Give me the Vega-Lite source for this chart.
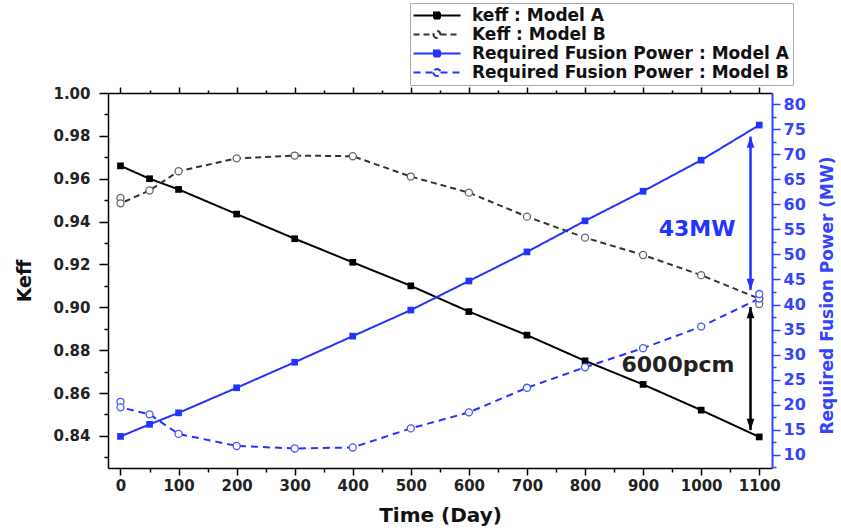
{
  "$schema": "https://vega.github.io/schema/vega-lite/v6.json",
  "width": 664,
  "height": 375,
  "autosize": {"type": "none"},
  "padding": {"left": 108, "top": 93, "right": 69, "bottom": 63},
  "background": "white",
  "config": {
    "font": "DejaVu Sans",
    "view": {"stroke": null},
    "axis": {"labelFont": "DejaVu Sans", "titleFont": "DejaVu Sans", "labelFontWeight": "bold", "titleFontWeight": "bold", "grid": false}
  },
  "datasets": {
    "curves": [
      {"series": "keff : Model A", "day": 0, "value": 0.966},
      {"series": "keff : Model A", "day": 50, "value": 0.960},
      {"series": "keff : Model A", "day": 100, "value": 0.955},
      {"series": "keff : Model A", "day": 200, "value": 0.9435},
      {"series": "keff : Model A", "day": 300, "value": 0.932},
      {"series": "keff : Model A", "day": 400, "value": 0.921},
      {"series": "keff : Model A", "day": 500, "value": 0.910},
      {"series": "keff : Model A", "day": 600, "value": 0.898},
      {"series": "keff : Model A", "day": 700, "value": 0.887},
      {"series": "keff : Model A", "day": 800, "value": 0.875},
      {"series": "keff : Model A", "day": 900, "value": 0.864},
      {"series": "keff : Model A", "day": 1000, "value": 0.852},
      {"series": "keff : Model A", "day": 1100, "value": 0.8395},
      {"series": "Keff : Model B", "day": 0, "value": 0.951},
      {"series": "Keff : Model B", "day": 0, "value": 0.9485},
      {"series": "Keff : Model B", "day": 50, "value": 0.9545},
      {"series": "Keff : Model B", "day": 100, "value": 0.9635},
      {"series": "Keff : Model B", "day": 200, "value": 0.9695},
      {"series": "Keff : Model B", "day": 300, "value": 0.9708},
      {"series": "Keff : Model B", "day": 400, "value": 0.9705},
      {"series": "Keff : Model B", "day": 500, "value": 0.961},
      {"series": "Keff : Model B", "day": 600, "value": 0.9535},
      {"series": "Keff : Model B", "day": 700, "value": 0.9423},
      {"series": "Keff : Model B", "day": 800, "value": 0.9325},
      {"series": "Keff : Model B", "day": 900, "value": 0.9244},
      {"series": "Keff : Model B", "day": 1000, "value": 0.915},
      {"series": "Keff : Model B", "day": 1100, "value": 0.904},
      {"series": "Keff : Model B", "day": 1100, "value": 0.9015},
      {"series": "Required Fusion Power : Model A", "day": 0, "value": 13.7},
      {"series": "Required Fusion Power : Model A", "day": 50, "value": 16.1},
      {"series": "Required Fusion Power : Model A", "day": 100, "value": 18.4},
      {"series": "Required Fusion Power : Model A", "day": 200, "value": 23.4},
      {"series": "Required Fusion Power : Model A", "day": 300, "value": 28.5},
      {"series": "Required Fusion Power : Model A", "day": 400, "value": 33.7},
      {"series": "Required Fusion Power : Model A", "day": 500, "value": 38.9},
      {"series": "Required Fusion Power : Model A", "day": 600, "value": 44.7},
      {"series": "Required Fusion Power : Model A", "day": 700, "value": 50.5},
      {"series": "Required Fusion Power : Model A", "day": 800, "value": 56.7},
      {"series": "Required Fusion Power : Model A", "day": 900, "value": 62.6},
      {"series": "Required Fusion Power : Model A", "day": 1000, "value": 68.8},
      {"series": "Required Fusion Power : Model A", "day": 1100, "value": 75.8},
      {"series": "Required Fusion Power : Model B", "day": 0, "value": 20.6},
      {"series": "Required Fusion Power : Model B", "day": 0, "value": 19.5},
      {"series": "Required Fusion Power : Model B", "day": 50, "value": 18.1},
      {"series": "Required Fusion Power : Model B", "day": 100, "value": 14.2},
      {"series": "Required Fusion Power : Model B", "day": 200, "value": 11.8},
      {"series": "Required Fusion Power : Model B", "day": 300, "value": 11.3},
      {"series": "Required Fusion Power : Model B", "day": 400, "value": 11.5},
      {"series": "Required Fusion Power : Model B", "day": 500, "value": 15.3},
      {"series": "Required Fusion Power : Model B", "day": 600, "value": 18.5},
      {"series": "Required Fusion Power : Model B", "day": 700, "value": 23.4},
      {"series": "Required Fusion Power : Model B", "day": 800, "value": 27.5},
      {"series": "Required Fusion Power : Model B", "day": 900, "value": 31.3},
      {"series": "Required Fusion Power : Model B", "day": 1000, "value": 35.6},
      {"series": "Required Fusion Power : Model B", "day": 1100, "value": 41.2},
      {"series": "Required Fusion Power : Model B", "day": 1100, "value": 42.1}
    ],
    "arrows": [
      {"axis": "keff", "day": 1085, "top": 0.9001, "bottom": 0.8427},
      {"axis": "power", "day": 1085, "top": 73.5, "bottom": 42.9}
    ],
    "notes": [
      {"axis": "keff", "day": 960, "value": 0.873, "label": "6000pcm"},
      {"axis": "power", "day": 993, "value": 55.1, "label": "43MW"}
    ]
  },
  "layer": [
    {
      "encoding": {
        "x": {"field": "day", "type": "quantitative", "scale": {"domain": [-21.5, 1122], "nice": false, "zero": false},
          "axis": {"orient": "bottom", "title": "Time (Day)", "titleFontSize": 20, "titleColor": "#111", "titlePadding": 12,
            "values": [0,50,100,150,200,250,300,350,400,450,500,550,600,650,700,750,800,850,900,950,1000,1050,1100],
            "labelExpr": "datum.value % 100 == 0 ? datum.label : ''", "format": "d",
            "tickSize": {"condition": {"test": "datum.value % 100 == 0", "value": 7}, "value": 4},
            "labelFontSize": 15, "labelColor": "#222", "labelPadding": 3, "labelFlush": false, "labelOverlap": false,
            "domainColor": "black", "domainWidth": 1.5, "tickColor": "black", "tickWidth": 1.5}},
        "y": {"type": "quantitative", "scale": {"domain": [0.825, 1.0], "nice": false, "zero": false},
          "axis": {"orient": "left", "title": "Keff", "titleFontSize": 19, "titleColor": "#111", "titlePadding": 18,
            "values": [0.83,0.84,0.85,0.86,0.87,0.88,0.89,0.90,0.91,0.92,0.93,0.94,0.95,0.96,0.97,0.98,0.99,1.0],
            "format": ".2f", "labelExpr": "round(datum.value*100) % 2 == 0 ? datum.label : ''",
            "tickSize": {"condition": {"test": "round(datum.value*100) % 2 == 0", "value": 9}, "value": 4},
            "labelFontSize": 15, "labelColor": "#222", "labelPadding": 9, "labelFlush": false, "labelOverlap": false,
            "domainColor": "black", "domainWidth": 1.5, "tickColor": "black", "tickWidth": 1.5}}
      },
      "layer": [
        {
          "data": {"name": "curves"},
          "transform": [{"filter": "indexof(datum.series, 'Required') < 0"}],
          "mark": {"type": "line", "strokeWidth": 2},
          "encoding": {
            "y": {"field": "value", "type": "quantitative"},
            "color": {"field": "series", "type": "nominal",
              "scale": {"domain": ["keff : Model A", "Keff : Model B", "Required Fusion Power : Model A", "Required Fusion Power : Model B"], "range": ["black", "#333333", "#2233ff", "#2233ff"]},
              "legend": {"orient": "none", "legendX": 302, "legendY": -90, "title": null,
                "labelFont": "DejaVu Sans", "labelFontSize": 17, "labelFontWeight": "bold", "labelColor": "#111", "labelLimit": 0,
                "symbolSize": 100, "rowPadding": 1, "labelOffset": 41, "strokeColor": "#aaaaaa", "padding": 4,
                "symbolType": "stroke",
                "encode": {"symbols": {"update": {
                  "shape": {"signal": "indexof(datum.value,'Model A')>=0 ? 'M-4.7,0H-0.6M0.6,0H4.7M-0.6,-0.6H0.6V0.6H-0.6Z' : 'M-4.7,0H-0.7M0.7,0H4.7M-0.7,0A0.7,0.7 0 1,0 0.7,0A0.7,0.7 0 1,0 -0.7,0'"},
                  "size": {"value": 100},
                  "strokeWidth": {"value": 2},
                  "stroke": {"signal": "indexof(datum.value,'Required')>=0 ? '#2233ff' : 'black'"},
                  "fill": {"signal": "indexof(datum.value,'Model A')>=0 ? (indexof(datum.value,'Required')>=0 ? '#2233ff' : 'black') : 'white'"},
                  "fillOpacity": {"value": 1},
                  "opacity": {"value": 1},
                  "strokeDash": {"signal": "indexof(datum.value,'Model B')>=0 ? [2,2] : [1,0]"},
                  "x": {"value": 23}
                }}}
              }},
            "strokeDash": {"field": "series", "type": "nominal",
              "scale": {"domain": ["keff : Model A", "Keff : Model B", "Required Fusion Power : Model A", "Required Fusion Power : Model B"], "range": [[1,0],[6,4],[1,0],[7,5]]},
              "legend": null}
          }
        },
        {
          "data": {"name": "curves"},
          "transform": [{"filter": "datum.series == 'keff : Model A'"}],
          "mark": {"type": "point", "shape": "square", "filled": true, "color": "black", "size": 45, "opacity": 1},
          "encoding": {"y": {"field": "value", "type": "quantitative"}}
        },
        {
          "data": {"name": "curves"},
          "transform": [{"filter": "datum.series == 'Keff : Model B'"}],
          "mark": {"type": "point", "shape": "circle", "filled": true, "fill": "white", "stroke": "#666666", "strokeWidth": 1.3, "size": 50, "opacity": 1},
          "encoding": {"y": {"field": "value", "type": "quantitative"}}
        },
        {
          "data": {"name": "arrows"},
          "transform": [{"filter": "datum.axis == 'keff'"}],
          "mark": {"type": "rule", "color": "black", "strokeWidth": 2.5},
          "encoding": {"y": {"field": "top", "type": "quantitative"}, "y2": {"field": "bottom"}}
        },
        {
          "data": {"name": "arrows"},
          "transform": [{"filter": "datum.axis == 'keff'"}],
          "mark": {"type": "point", "shape": "M0,-1L-0.55,0.6L0.55,0.6Z", "filled": true, "color": "black", "size": 196, "opacity": 1, "yOffset": 7},
          "encoding": {"y": {"field": "top", "type": "quantitative"}}
        },
        {
          "data": {"name": "arrows"},
          "transform": [{"filter": "datum.axis == 'keff'"}],
          "mark": {"type": "point", "shape": "M0,1L-0.55,-0.6L0.55,-0.6Z", "filled": true, "color": "black", "size": 196, "opacity": 1, "yOffset": -7},
          "encoding": {"y": {"field": "bottom", "type": "quantitative"}}
        },
        {
          "data": {"name": "notes"},
          "transform": [{"filter": "datum.axis == 'keff'"}],
          "mark": {"type": "text", "font": "DejaVu Sans", "fontSize": 22, "fontWeight": "bold", "color": "#222"},
          "encoding": {"y": {"field": "value", "type": "quantitative"}, "text": {"field": "label"}}
        }
      ]
    },
    {
      "encoding": {
        "x": {"field": "day", "type": "quantitative", "scale": {"domain": [-21.5, 1122], "nice": false, "zero": false},
          "axis": {"orient": "top", "title": null, "labels": false,
            "values": [0,50,100,150,200,250,300,350,400,450,500,550,600,650,700,750,800,850,900,950,1000,1050,1100],
            "tickSize": {"condition": {"test": "datum.value % 100 == 0", "value": 6}, "value": 3},
            "domainColor": "black", "domainWidth": 1.5, "tickColor": "black", "tickWidth": 1.5}},
        "y": {"type": "quantitative", "scale": {"domain": [7.4, 82.2], "nice": false, "zero": false},
          "axis": {"orient": "right", "title": "Required Fusion Power (MW)", "titleAngle": -90, "titleBaseline": "top", "titleFontSize": 17, "titleColor": "#3344ff", "titlePadding": 14, "titleY": 202,
            "values": [7.5,10,12.5,15,17.5,20,22.5,25,27.5,30,32.5,35,37.5,40,42.5,45,47.5,50,52.5,55,57.5,60,62.5,65,67.5,70,72.5,75,77.5,80],
            "labelExpr": "datum.value % 5 == 0 ? datum.label : ''",
            "tickSize": {"condition": {"test": "datum.value % 5 == 0", "value": 8}, "value": 4},
            "labelFontSize": 16, "labelColor": "#3344ff", "labelPadding": 3, "labelFlush": false, "labelOverlap": false,
            "domainColor": "#3344ff", "domainWidth": 2, "tickColor": "#3344ff", "tickWidth": 1.5}}
      },
      "layer": [
        {
          "data": {"name": "curves"},
          "transform": [{"filter": "indexof(datum.series, 'Required') >= 0"}],
          "mark": {"type": "line", "strokeWidth": 2},
          "encoding": {
            "y": {"field": "value", "type": "quantitative"},
            "color": {"field": "series", "type": "nominal"},
            "strokeDash": {"field": "series", "type": "nominal", "legend": null}
          }
        },
        {
          "data": {"name": "curves"},
          "transform": [{"filter": "datum.series == 'Required Fusion Power : Model A'"}],
          "mark": {"type": "point", "shape": "square", "filled": true, "color": "#2233ff", "size": 45, "opacity": 1},
          "encoding": {"y": {"field": "value", "type": "quantitative"}}
        },
        {
          "data": {"name": "curves"},
          "transform": [{"filter": "datum.series == 'Required Fusion Power : Model B'"}],
          "mark": {"type": "point", "shape": "circle", "filled": true, "fill": "white", "stroke": "#4455ff", "strokeWidth": 1.3, "size": 50, "opacity": 1},
          "encoding": {"y": {"field": "value", "type": "quantitative"}}
        },
        {
          "data": {"name": "arrows"},
          "transform": [{"filter": "datum.axis == 'power'"}],
          "mark": {"type": "rule", "color": "#2233ff", "strokeWidth": 2.5},
          "encoding": {"y": {"field": "top", "type": "quantitative"}, "y2": {"field": "bottom"}}
        },
        {
          "data": {"name": "arrows"},
          "transform": [{"filter": "datum.axis == 'power'"}],
          "mark": {"type": "point", "shape": "M0,-1L-0.55,0.6L0.55,0.6Z", "filled": true, "color": "#2233ff", "size": 196, "opacity": 1, "yOffset": 7},
          "encoding": {"y": {"field": "top", "type": "quantitative"}}
        },
        {
          "data": {"name": "arrows"},
          "transform": [{"filter": "datum.axis == 'power'"}],
          "mark": {"type": "point", "shape": "M0,1L-0.55,-0.6L0.55,-0.6Z", "filled": true, "color": "#2233ff", "size": 196, "opacity": 1, "yOffset": -7},
          "encoding": {"y": {"field": "bottom", "type": "quantitative"}}
        },
        {
          "data": {"name": "notes"},
          "transform": [{"filter": "datum.axis == 'power'"}],
          "mark": {"type": "text", "font": "DejaVu Sans", "fontSize": 22, "fontWeight": "bold", "color": "#2233ff"},
          "encoding": {"y": {"field": "value", "type": "quantitative"}, "text": {"field": "label"}}
        }
      ]
    }
  ],
  "resolve": {"scale": {"y": "independent", "x": "independent"}}
}
